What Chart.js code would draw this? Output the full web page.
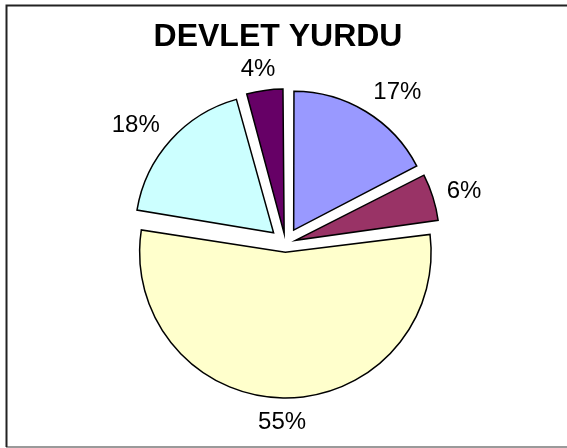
<!DOCTYPE html>
<html>
<head>
<meta charset="utf-8">
<title>DEVLET YURDU</title>
<script src="https://cdn.jsdelivr.net/npm/chart.js@4/dist/chart.umd.min.js"></script>
<style>
    html, body { margin: 0; padding: 0; background: #ffffff; }
    #wrap { width: 567px; height: 448px; }
</style>
</head>
<body>
<div id="wrap"><canvas id="pie-chart" width="567" height="448"></canvas></div>
<script>
// values, clockwise from 12 o'clock
const sliceLabels = ['17%', '6%', '55%', '18%', '4%'];
const sliceValues = [17.4, 5.5, 54.7, 18.1, 4.3];
const sliceColors = ['#9999FF', '#993366', '#FFFFCC', '#CCFFFF', '#660066'];
const chartTitle = 'DEVLET YURDU';

// pixels every slice is pulled out of the centre
const EXPLODE = 17.5;
const LABEL_GAP = 14.5;
const LABEL_FONT = '24px "Liberation Sans", Arial, sans-serif';
const TITLE_FONT = 'bold 32px "Liberation Sans", Arial, sans-serif';

// Chart.js moves an arc by offset/4 * (2 - sin(circumference)), undo that
// so that all slices end up the same distance from the centre
function sliceOffset(context) {
    let total = 0;
    for (let i = 0; i < sliceValues.length; i++) {
        total += sliceValues[i];
    }
    let circ = sliceValues[context.dataIndex] / total * Math.PI * 2;
    let fix = 1 - Math.sin(Math.min(Math.PI, circ));
    return EXPLODE * 4 / (1 + fix);
}

function clamp(v) {
    return Math.max(-1, Math.min(1, v));
}

// frame + title + outside-end labels
const decorPlugin = {
    id: 'decor',
    beforeDraw: function (chart) {
        let ctx = chart.ctx;
        ctx.save();
        ctx.fillStyle = '#ffffff';
        ctx.fillRect(0, 0, chart.width, chart.height);
        ctx.strokeStyle = '#9a9a9a';
        ctx.lineWidth = 2;
        ctx.beginPath();
        ctx.moveTo(6, 447);
        ctx.lineTo(chart.width, 447);
        ctx.stroke();
        ctx.strokeStyle = '#222222';
        ctx.beginPath();
        ctx.moveTo(6.5, 447);
        ctx.lineTo(6.5, 5.5);
        ctx.lineTo(chart.width, 5.5);
        ctx.stroke();
        ctx.restore();
    },
    afterDatasetsDraw: function (chart) {
        let ctx = chart.ctx;
        let meta = chart.getDatasetMeta(0);

        ctx.save();
        ctx.fillStyle = '#000000';
        ctx.font = TITLE_FONT;
        ctx.textAlign = 'center';
        ctx.textBaseline = 'alphabetic';
        ctx.fillText(chartTitle, 278, 46);

        ctx.font = LABEL_FONT;
        for (let i = 0; i < meta.data.length; i++) {
            let arc = meta.data[i];
            let p = arc.getProps(['x', 'y', 'startAngle', 'endAngle', 'outerRadius'], true);
            let mid = (p.startAngle + p.endAngle) / 2;
            let dx = Math.cos(mid);
            let dy = Math.sin(mid);
            let text = sliceLabels[i];
            let w = ctx.measureText(text).width;
            let h = 17;
            let r = p.outerRadius + EXPLODE + LABEL_GAP;
            // anchor sits on the box edge facing the pie
            let cx = p.x + dx * r + clamp(dx * 2) * w / 2;
            let cy = p.y + dy * r + clamp(dy * 1.3) * h / 2;
            ctx.fillText(text, cx, cy + h / 2);
        }
        ctx.restore();
    }
};

new Chart(document.getElementById('pie-chart'), {
    type: 'pie',
    data: {
        labels: sliceLabels,
        datasets: [{
            data: sliceValues,
            backgroundColor: sliceColors,
            borderColor: '#000000',
            borderWidth: 1.5,
            borderJoinStyle: 'miter',
            offset: sliceOffset
        }]
    },
    options: {
        responsive: false,
        animation: false,
        radius: 137,
        layout: { padding: { left: 4, right: 0, top: 39, bottom: 0 } },
        plugins: {
            legend: { display: false },
            title: { display: false },
            tooltip: { enabled: false }
        }
    },
    plugins: [decorPlugin]
});
</script>
</body>
</html>
